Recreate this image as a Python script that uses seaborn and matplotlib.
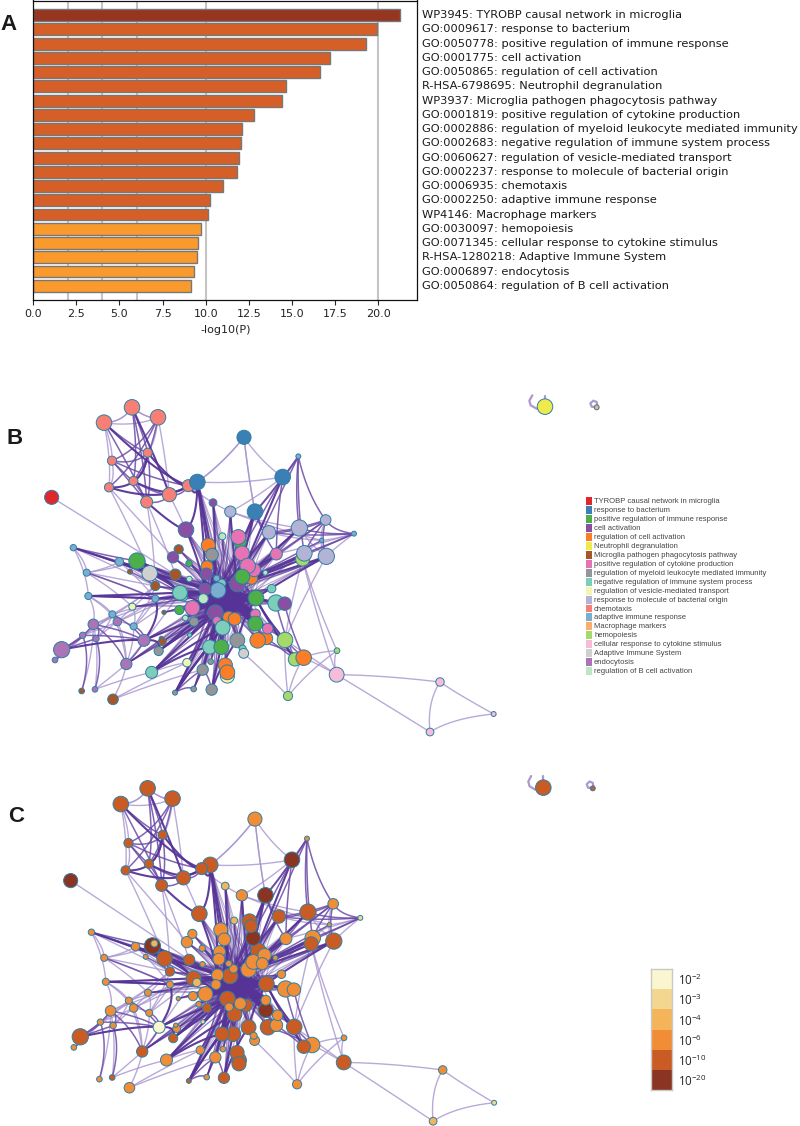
"""Enrichment bar chart plus two network views (cluster colour and p-value colour)."""

import numpy as np
import pandas as pd
import matplotlib
matplotlib.use("Agg")
import matplotlib.pyplot as plt
from matplotlib.collections import LineCollection
from matplotlib.colors import ListedColormap
import seaborn as sns

W, H = 800, 1126

terms = [
    "WP3945: TYROBP causal network in microglia",
    "GO:0009617: response to bacterium",
    "GO:0050778: positive regulation of immune response",
    "GO:0001775: cell activation",
    "GO:0050865: regulation of cell activation",
    "R-HSA-6798695: Neutrophil degranulation",
    "WP3937: Microglia pathogen phagocytosis pathway",
    "GO:0001819: positive regulation of cytokine production",
    "GO:0002886: regulation of myeloid leukocyte mediated immunity",
    "GO:0002683: negative regulation of immune system process",
    "GO:0060627: regulation of vesicle-mediated transport",
    "GO:0002237: response to molecule of bacterial origin",
    "GO:0006935: chemotaxis",
    "GO:0002250: adaptive immune response",
    "WP4146: Macrophage markers",
    "GO:0030097: hemopoiesis",
    "GO:0071345: cellular response to cytokine stimulus",
    "R-HSA-1280218: Adaptive Immune System",
    "GO:0006897: endocytosis",
    "GO:0050864: regulation of B cell activation",
]
log_p = [21.26, 19.92, 19.3, 17.2, 16.63, 14.64, 14.45, 12.79, 12.13, 12.03,
         11.95, 11.8, 10.99, 10.27, 10.12, 9.73, 9.54, 9.5, 9.3, 9.13]
bar_bin = [5] + [4] * 14 + [3] * 5
grid_at = [2, 4, 6, 10, 20]

cluster_names = [
    "TYROBP causal network in microglia", "response to bacterium",
    "positive regulation of immune response", "cell activation",
    "regulation of cell activation", "Neutrophil degranulation",
    "Microglia pathogen phagocytosis pathway", "positive regulation of cytokine production",
    "regulation of myeloid leukocyte mediated immunity",
    "negative regulation of immune system process",
    "regulation of vesicle-mediated transport", "response to molecule of bacterial origin",
    "chemotaxis", "adaptive immune response", "Macrophage markers", "hemopoiesis",
    "cellular response to cytokine stimulus", "Adaptive Immune System", "endocytosis",
    "regulation of B cell activation",
]
cluster_colors = [
    "#e0272b", "#3a7fb5", "#4daf4a", "#8a4ea3", "#fb7d28", "#eeea4c", "#a65628",
    "#e873b4", "#939598", "#7ccdb9", "#f4f5b0", "#b3b3d6", "#f87f76", "#7badd0",
    "#fbae6b", "#a6d96a", "#f6bcd8", "#d0d0d0", "#ab74b6", "#bfe6c3",
]
p_labels = ["-2", "-3", "-4", "-6", "-10", "-20"]
p_colors = ["#f9f6d0", "#f3d68f", "#f3b45a", "#f28d37", "#c95c24", "#8a3524"]
bar_colors = {3: "#fa9a2c", 4: "#d65f27", 5: "#963520"}

# node positions (3x pixel grid); ids in edge lists are 1-based
node_x = [396, 312, 474, 443, 336, 400, 327, 440, 508, 565,
          732, 592, 848, 765, 155, 895, 639, 691, 558, 667,
          715, 720, 807, 898, 977, 1062, 965, 913, 908, 979,
          829, 625, 636, 536, 519, 411, 567, 358, 220, 260,
          390, 449, 526, 621, 619, 568, 466, 726, 743, 762,
          727, 755, 712, 796, 815, 828, 854, 768, 654, 615,
          540, 665, 650, 610, 577, 466, 397, 265, 337, 352,
          401, 280, 248, 288, 185, 165, 432, 492, 538, 646,
          556, 582, 651, 686, 704, 766, 766, 803, 668, 569,
          484, 487, 476, 712, 773, 799, 855, 629, 664, 728,
          731, 379, 561, 455, 608, 632, 676, 682, 682, 635,
          581, 525, 245, 285, 339, 864, 885, 911, 1011, 1010,
          1320, 1481, 1290, 1635, 1790, 417, 550]
node_y = [82, 128, 112, 218, 242, 303, 322, 366, 344, 317,
          172, 306, 291, 395, 352, 229, 368, 395, 449, 469,
          471, 485, 457, 444, 420, 461, 481, 520, 537, 529,
          522, 496, 524, 508, 532, 543, 550, 545, 503, 578,
          575, 580, 584, 560, 582, 597, 618, 520, 558, 570,
          590, 595, 612, 578, 626, 669, 671, 654, 631, 628,
          638, 610, 595, 656, 684, 656, 680, 648, 703, 725,
          739, 733, 766, 776, 809, 840, 781, 697, 690, 698,
          714, 725, 722, 712, 717, 702, 731, 746, 743, 765,
          775, 785, 813, 781, 781, 775, 780, 801, 801, 806,
          820, 852, 848, 877, 869, 845, 855, 888, 877, 929,
          927, 938, 933, 928, 958, 948, 838, 833, 812, 884,
          906, 1002, 1056, 80, 82, 536, 650]
node_r = [22, 22, 22, 13, 13, 13, 13, 17, 20, 17,
          20, 22, 22, 22, 20, 7, 11, 16, 22, 10,
          21, 18, 19, 23, 15, 7, 6, 22, 20, 23,
          17, 20, 18, 13, 16, 23, 9, 12, 9, 10,
          7, 22, 16, 17, 17, 8, 13, 21, 22, 19,
          21, 17, 22, 7, 12, 23, 19, 22, 22, 17,
          21, 12, 9, 14, 21, 10, 10, 10, 10, 12,
          10, 15, 9, 9, 23, 8, 17, 6, 13, 22,
          8, 13, 12, 17, 18, 14, 21, 15, 21, 6,
          6, 11, 13, 21, 22, 18, 22, 20, 21, 10,
          14, 16, 12, 17, 16, 8, 20, 20, 21, 16,
          8, 7, 8, 8, 15, 13, 19, 22, 8, 21,
          12, 7, 11, 22, 7, 10, 12]
node_cat = [12, 12, 12, 12, 12, 12, 12, 12, 12, 12,
            1, 1, 1, 1, 0, 13, 3, 11, 3, 19,
            7, 2, 11, 11, 11, 13, 13, 11, 15, 11,
            7, 4, 8, 6, 3, 2, 2, 13, 13, 13,
            6, 17, 6, 4, 3, 19, 6, 7, 7, 7,
            2, 4, 3, 19, 9, 9, 3, 2, 13, 3,
            9, 9, 13, 19, 7, 13, 10, 13, 13, 18,
            13, 18, 18, 18, 18, 18, 18, 6, 2, 3,
            19, 8, 7, 4, 4, 7, 2, 7, 9, 9,
            6, 6, 8, 8, 4, 4, 15, 9, 2, 9,
            17, 18, 10, 9, 8, 8, 4, 10, 4, 8,
            8, 8, 6, 18, 6, 15, 15, 4, 15, 16,
            16, 16, 16, 5, 14, 2, 9]
node_bin = [4, 4, 4, 4, 4, 4, 4, 4, 4, 4,
            3, 4, 5, 5, 5, 3, 2, 3, 4, 2,
            4, 4, 4, 4, 3, 1, 3, 3, 4, 4,
            3, 3, 3, 3, 3, 5, 3, 3, 3, 3,
            3, 4, 4, 3, 3, 3, 4, 5, 4, 3,
            3, 3, 3, 3, 3, 3, 3, 4, 4, 3,
            4, 3, 3, 3, 3, 3, 3, 3, 3, 3,
            3, 3, 3, 3, 4, 3, 0, 3, 3, 4,
            3, 4, 3, 3, 4, 3, 5, 3, 4, 1,
            3, 3, 4, 4, 4, 3, 4, 4, 4, 3,
            3, 4, 3, 3, 3, 3, 4, 4, 4, 4,
            3, 4, 3, 4, 3, 3, 4, 3, 3, 4,
            3, 1, 2, 4, 4, 2, 2]
# nodes hidden behind their neighbours in panel B
behind_in_b = [126, 127, 22, 29, 52, 53, 50, 108, 97, 96, 61, 62, 84, 56, 117, 44, 63, 45]

thin_edges = [
    (1, 2), (1, 3), (2, 3), (1, 2), (1, 3), (2, 5), (2, 7), (3, 4), (3, 9), (5, 7),
    (11, 12), (11, 12), (11, 13), (11, 14), (12, 13), (7, 47), (8, 47), (8, 43), (15, 43),
    (7, 35), (10, 18), (9, 19), (39, 40), (39, 68), (40, 38), (40, 36), (40, 66), (38, 66),
    (68, 69), (68, 72), (72, 69), (69, 70), (72, 76), (73, 70), (74, 69), (75, 69), (70, 71),
    (102, 69), (102, 70), (102, 71), (102, 114), (115, 102), (115, 105), (115, 103), (114, 104),
    (113, 72), (114, 72), (24, 30), (23, 27), (18, 27), (18, 24), (26, 30), (26, 27),
    (116, 97), (116, 118), (116, 101), (116, 119), (119, 120), (118, 119), (118, 120),
    (120, 97), (120, 121), (120, 123), (121, 122), (121, 123), (123, 122), (119, 29),
    (29, 120), (14, 16), (13, 18), (11, 14), (67, 40), (71, 66), (71, 67), (104, 103),
    (68, 61), (69, 61), (70, 61), (71, 61), (72, 61), (73, 47), (74, 47), (102, 61),
    (39, 47), (40, 47), (38, 47), (66, 61), (69, 47), (71, 47), (70, 66), (68, 70),
    (25, 27), (28, 27), (30, 27), (26, 31), (24, 31), (97, 30), (29, 97),
]
mid_edges = [
    (1, 8), (3, 5), (3, 7), (4, 5), (4, 6), (4, 8), (5, 6), (5, 8), (5, 10), (6, 8), (2, 4),
    (2, 8), (6, 9), (8, 9), (9, 10), (1, 6), (1, 4), (3, 6),
    (13, 14), (16, 13), (16, 24), (16, 25), (16, 28), (24, 25), (23, 25), (25, 26), (24, 26),
    (23, 26), (28, 25), (30, 25), (28, 26), (23, 24), (31, 25), (14, 23), (14, 31), (13, 31),
    (39, 38), (39, 36), (39, 42), (40, 66), (38, 61), (36, 42), (41, 47), (36, 47), (68, 66),
    (75, 72), (75, 73), (75, 74), (75, 76), (74, 72), (72, 77), (73, 77), (69, 77), (71, 77),
    (102, 77), (102, 92), (113, 73), (114, 74), (102, 72), (97, 118), (95, 118), (97, 117),
    (96, 117), (57, 118), (56, 117), (111, 105), (112, 105), (112, 111), (110, 105),
    (16, 14), (25, 53), (27, 53), (26, 53), (23, 53), (16, 53), (13, 59),
]
thick_edges = [
    (2, 10), (4, 7), (4, 10), (6, 10), (7, 10), (1, 9), (8, 19), (10, 12), (12, 19), (75, 77),
    (39, 42), (36, 61), (42, 61), (68, 66), (13, 53), (14, 53), (77, 93), (104, 98),
    (112, 98), (110, 99), (12, 80), (12, 60), (19, 60), (28, 59), (30, 59),
    (68, 59), (66, 59), (77, 80), (93, 80), (104, 80), (112, 80), (98, 80), (99, 80), (105, 80),
    (94, 58), (97, 58), (117, 58), (57, 58), (30, 58), (29, 59), (23, 59), (31, 59), (24, 53),
    (14, 59), (12, 59), (17, 80), (18, 53), (36, 60), (42, 59), (38, 60), (61, 59), (61, 80),
    (77, 66), (93, 82), (104, 89), (112, 89), (110, 94),
]
core_links = [
    (80, 59), (80, 53), (80, 58), (59, 58), (53, 58), (59, 53), (84, 53), (84, 59), (64, 58),
    (60, 58), (80, 62), (85, 53), (89, 53), (87, 59), (86, 59), (83, 62), (64, 53), (65, 58),
]
core_nodes = [80, 59, 60, 53, 58, 64, 84, 62]
spoke_nodes = [
    12, 17, 18, 19, 20, 21, 23, 24, 28, 30, 31, 32, 33, 34, 35, 36, 37, 38, 42, 43, 44, 47, 48,
    49, 50, 51, 54, 55, 56, 57, 61, 63, 65, 66, 67, 77, 78, 79, 81, 82, 83, 85, 86, 87, 88, 89,
    90, 92, 93, 94, 95, 96, 97, 98, 99, 100, 102, 103, 104, 105, 106, 107, 110, 111, 112, 14,
]
hub_xy = (690, 655)

loop_x = [[1597, 1588, 1592, 1610, 1620], [1635, 1635],
          [1790, 1775, 1771, 1780, 1790, 1792]]
loop_y = [[46, 62, 76, 86, 85], [47, 60], [82, 80, 70, 62, 66, 78]]


def px_axes(fig, left, top, right, bottom):
    return fig.add_axes([left / W, 1 - bottom / H, (right - left) / W, (bottom - top) / H])


def curve(a, b, bend):
    p0 = np.array([node_x[a - 1], node_y[a - 1]], float)
    p1 = np.array([node_x[b - 1], node_y[b - 1]], float)
    ctrl = (p0 + p1) / 2 + bend * (np.array(hub_xy) - (p0 + p1) / 2)
    t = np.linspace(0, 1, 24)[:, None]
    return (1 - t) ** 2 * p0 + 2 * t * (1 - t) * ctrl + t ** 2 * p1


def draw_edges(ax):
    groups = [
        (thin_edges, 0.04, "#a794cf", 0.8, 1.0),
        (mid_edges, 0.06, "#6a4aa6", 0.85, 1.1),
    ]
    for pairs, bend, color, alpha, width in groups:
        segs = [curve(a, b, bend) for a, b in pairs]
        ax.add_collection(LineCollection(segs, colors=color, alpha=alpha, linewidths=width, zorder=1))
    spokes = [curve(a, b, 0.6) for a in spoke_nodes for b in core_nodes]
    ax.add_collection(LineCollection(spokes, colors="#563497", alpha=0.4, linewidths=0.8, zorder=1))
    heavy = [curve(a, b, 0.15) for a, b in thick_edges]
    ax.add_collection(LineCollection(heavy, colors="#563497", alpha=0.95, linewidths=1.5, zorder=1))
    central = [curve(a, b, 0.85) for a, b in core_links]
    ax.add_collection(LineCollection(central, colors="#563497", linewidths=4, zorder=1))
    for xs, ys in zip(loop_x, loop_y):
        ax.plot(xs, ys, color="#ac98d0", lw=1.6, zorder=1, solid_capstyle="round")


def draw_nodes(ax, order, colors):
    df = pd.DataFrame({
        "x": np.array(node_x)[order],
        "y": np.array(node_y)[order],
        "key": np.array(colors)[order],
    })
    # radius is in 3x pixels, scatter size in points squared
    sizes = (2 * np.array(node_r)[order] / 3 * 0.72 * 1.06) ** 2
    keys = sorted(set(colors))
    sns.scatterplot(data=df, x="x", y="y", hue="key", hue_order=keys,
                    palette=dict(zip(keys, keys)),
                    s=sizes, edgecolor="#2f7fa3", linewidth=0.7, legend=False, ax=ax, zorder=2)


def network_axes(fig, left, top, right, bottom, y_end):
    ax = px_axes(fig, left, top, right, bottom)
    ax.patch.set_alpha(0)
    ax.set_xlim(0, 2400)
    ax.set_ylim(y_end, 0)
    draw_edges(ax)
    return ax


def swatch_column(fig, left, top, right, bottom, colors, labels, size, family, gap=0):
    ax = px_axes(fig, left, top, right, bottom)
    n = len(colors)
    sns.heatmap(np.arange(n).reshape(-1, 1), cmap=ListedColormap(colors), vmin=0, vmax=n - 1,
                cbar=False, xticklabels=False, yticklabels=labels, linewidths=gap,
                linecolor="white", ax=ax)
    ax.yaxis.tick_right()
    ax.tick_params(axis="y", length=0, rotation=0, labelsize=size, pad=1.5)
    for lab in ax.get_yticklabels():
        lab.set_family(family)
        lab.set_color("#444444")
    return ax


def main():
    sns.set_style("white")
    plt.rcParams["font.family"] = ["DejaVu Sans"]
    plt.rcParams["mathtext.default"] = "regular"
    fig = plt.figure(figsize=(W / 100, H / 100), dpi=100, facecolor="white")

    # panel A
    ax = px_axes(fig, 33.3, 0.5, 417.3, 300)
    bars = pd.DataFrame({"term": terms, "value": log_p,
                         "shade": [bar_colors[b] for b in bar_bin]})
    for val in grid_at:
        ax.axvline(val, color="#c4c4c4", lw=1.5, zorder=0)
    sns.barplot(data=bars, y="term", x="value", hue="term", palette=list(bars["shade"]),
                saturation=1, width=0.84, edgecolor="#777777", linewidth=1, legend=False,
                ax=ax, zorder=2)
    ax.set_xlim(0, 22.28)
    ax.set_ylim(20, -1.02)
    ax.set_xticks(np.arange(0, 22.5, 2.5))
    ax.set_yticks([])
    ax.set_ylabel("")
    ax.set_xlabel("-log10(P)", fontsize=8, color="#222222", labelpad=4.5)
    ax.tick_params(axis="x", bottom=True, length=3.5, width=0.8, labelsize=8,
                   labelcolor="#222222", pad=3)
    for side in ax.spines.values():
        side.set_visible(True)
        side.set_color("#111111")
        side.set_linewidth(0.9)
    for i, term in enumerate(terms):
        ax.text(22.56, i, term, fontsize=8.2, va="center", ha="left", color="#1a1a1a", clip_on=False)

    # panel B, clusters coloured
    ax_b = network_axes(fig, 0, 380, 800, 760, 1140)
    rest = [i - 1 for i in range(1, len(node_x) + 1) if i not in behind_in_b]
    order_b = [i - 1 for i in behind_in_b] + rest
    draw_nodes(ax_b, order_b, [cluster_colors[c] for c in node_cat])
    ax_b.axis("off")

    # panel C, same layout coloured by p-value, small nodes on top
    ax_c = network_axes(fig, 21.17, 760.3, 787.6, 1126, 1070)
    order_c = sorted(range(len(node_x)), key=lambda i: -node_r[i])
    draw_nodes(ax_c, order_c, [p_colors[b] for b in node_bin])
    ax_c.axis("off")

    swatch_column(fig, 584.5, 496.4, 592, 675, cluster_colors, cluster_names, 5.5,
                  "Liberation Sans", gap=0.5)
    scale = swatch_column(fig, 651, 969, 672, 1090, p_colors,
                          ["10$^{%s}$" % s for s in p_labels], 8.3, "Open Sans")
    scale.tick_params(axis="y", pad=4, labelcolor="#222222")
    for side in scale.spines.values():
        side.set_visible(True)
        side.set_color("#c9c9c3")
        side.set_linewidth(1)

    for letter, x, y in [("A", 0, 25), ("B", 7, 438), ("C", 8, 816)]:
        fig.text(x / W, 1 - y / H, letter, fontsize=16, fontweight="bold", family="Liberation Sans",
                 color="#1a1a1a", va="center", ha="left")

    fig.savefig("out.png", dpi=100)
    plt.close(fig)


if __name__ == "__main__":
    main()
